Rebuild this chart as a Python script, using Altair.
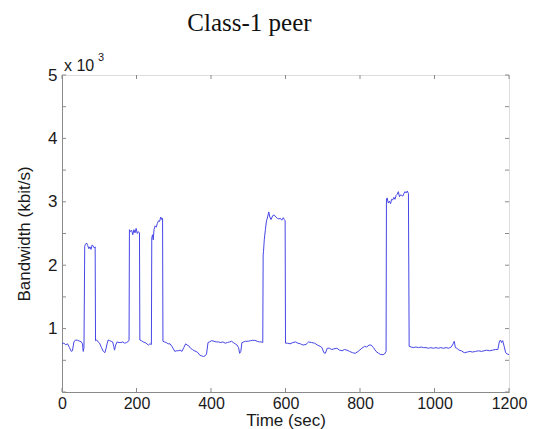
import altair as alt
import pandas as pd

# Time (sec) and bandwidth (kbit/s)
times = [0, 5, 10, 15, 20, 25, 28, 32, 36, 42, 48, 52, 55, 57, 59,
         61, 63, 66, 69, 72, 75, 78, 81, 84, 87, 89,
         90, 93, 97, 101, 106, 111, 115, 118, 121, 124, 128, 132, 136, 139, 141, 144, 148, 153, 158, 163, 168, 173, 178, 180,
         181, 184, 187, 190, 193, 196, 199, 202, 205, 208,
         209, 213, 218, 223, 228, 232, 236, 240,
         241, 243, 245, 247, 250, 253, 256, 259, 262, 265, 268, 270,
         271, 275, 280, 285, 290, 295, 299, 303, 307, 312, 317, 322, 327, 332, 336, 340, 345, 350, 355, 360, 365, 370, 375, 380, 384, 388,
         392, 396, 402, 408, 414, 420, 426, 432, 438, 444, 450, 455, 460, 465, 470, 474, 477, 480, 483, 488, 493, 500, 506, 512, 518, 524, 530, 535, 539,
         540, 541, 543, 546, 549, 552, 555, 558, 561, 564, 567, 570, 574, 578, 582, 586, 590, 594, 597, 599,
         600, 605, 612, 620, 627, 633, 640, 647, 655, 662, 670, 678, 686, 693, 698, 703, 707, 712, 718, 724, 730, 738, 745, 752, 758, 765, 772, 780, 787, 795, 805, 812, 818, 824, 830, 836, 843, 850, 856, 862, 866, 870,
         871, 873, 876, 879, 882, 885, 888, 891, 894, 897, 900, 903, 906, 909, 912, 915, 918, 921, 924, 927, 930,
         932, 937, 943, 950, 957, 964, 970, 977, 984, 990, 997, 1004, 1010, 1017, 1024, 1031, 1038, 1045, 1050, 1053, 1056, 1060, 1066, 1072, 1080, 1088, 1095, 1102, 1110, 1118, 1126, 1133, 1140, 1148, 1156, 1163, 1170, 1174, 1177, 1180, 1183, 1187, 1191, 1195, 1200]

bandwidth = [760, 770, 745, 760, 700, 640, 650, 790, 820, 815, 800, 790, 760, 640, 700,
             2300, 2330, 2350, 2310, 2260, 2290, 2250, 2320, 2300, 2270, 2290,
             810, 820, 790, 770, 700, 640, 620, 680, 760, 820, 810, 800, 790, 720, 660, 740, 790, 780, 780, 790, 770, 780, 800, 810,
             2560, 2530, 2550, 2480, 2560, 2510, 2580, 2500, 2530, 2510,
             820, 810, 790, 780, 760, 740, 760, 750,
             2430, 2480, 2400, 2560, 2620, 2600, 2660, 2700, 2690, 2760, 2720, 2740,
             800, 790, 780, 760, 760, 720, 680, 640, 650, 650, 660, 640, 700, 760, 740, 730, 690, 670, 650, 640, 620, 580, 570, 560, 570, 600,
             780, 790, 810, 800, 790, 790, 780, 790, 770, 780, 790, 800, 780, 760, 740, 700, 610, 640, 780, 790, 800, 800, 810, 815, 815, 800, 790, 790, 780,
             2160, 2220, 2400, 2560, 2700, 2760, 2840, 2760, 2720, 2760, 2790, 2790, 2760, 2740, 2730, 2740, 2710, 2750, 2720, 2700,
             770, 770, 760, 780, 790, 770, 760, 740, 750, 790, 780, 770, 740, 720, 700, 620, 610, 690, 690, 670, 680, 690, 660, 650, 670, 660, 640, 620, 610, 640, 690, 720, 710, 740, 740, 700, 640, 610, 590, 590, 600, 640,
             3050, 3060, 2980, 3010, 2970, 3040, 3030, 3070, 3040, 3100, 3120, 3160, 3080, 3110, 3100, 3090, 3130, 3160, 3140, 3170, 3130,
             720, 710, 700, 710, 700, 710, 700, 700, 690, 700, 690, 700, 690, 700, 690, 700, 690, 710, 760, 800, 700, 690, 660, 650, 620, 630, 640, 630, 640, 650, 640, 650, 660, 650, 660, 670, 670, 790, 820, 780, 810, 720, 620, 600, 590]

x_ticks = [0, 200, 400, 600, 800, 1000, 1200]
y_ticks = [0, 500, 1000, 1500, 2000, 2500, 3000, 3500, 4000, 4500, 5000]
y_labels = [1000, 2000, 3000, 4000, 5000]

W, H = 447, 317
AX = "#8a8a8a"
SANS = "Liberation Sans"

df = pd.DataFrame({"t": times, "bw": bandwidth})
xt = pd.DataFrame({"v": x_ticks})
yt = pd.DataFrame({"v": y_ticks})

xscale = alt.Scale(domain=[0, 1200], nice=False, zero=False)
yscale = alt.Scale(domain=[0, 5000], nice=False, zero=False)

line = alt.Chart(df).mark_line(color="#4646e6", strokeWidth=1, clip=True).encode(
    x=alt.X("t:Q", scale=xscale,
            axis=alt.Axis(values=x_ticks, format="d", title="Time (sec)", ticks=False, grid=False,
                          domainColor=AX, labelFont=SANS, labelFontSize=16, labelColor="#1a1a1a",
                          labelPadding=3, titleFont=SANS, titleFontSize=17, titleFontWeight="normal",
                          titleColor="#1a1a1a", titlePadding=1, labelFlush=False)),
    y=alt.Y("bw:Q", scale=yscale,
            axis=alt.Axis(values=y_labels, labelExpr="datum.value / 1000", title="Bandwidth (kbit/s)",
                          ticks=False, grid=False, domainColor=AX, labelFont=SANS, labelFontSize=17,
                          labelColor="#1a1a1a", labelPadding=5, titleFont=SANS, titleFontSize=17,
                          titleFontWeight="normal", titleColor="#1a1a1a", titlePadding=14, labelFlush=False)),
)

tb = alt.Chart(xt).mark_rule(color=AX, strokeWidth=1).encode(
    x=alt.X("v:Q", scale=xscale), y=alt.value(H), y2=alt.value(H - 4))
tt = alt.Chart(xt).mark_rule(color=AX, strokeWidth=1).encode(
    x=alt.X("v:Q", scale=xscale), y=alt.value(0), y2=alt.value(4))
tl = alt.Chart(yt).mark_rule(color=AX, strokeWidth=1).encode(
    y=alt.Y("v:Q", scale=yscale), x=alt.value(0), x2=alt.value(4))
tr = alt.Chart(yt).mark_rule(color=AX, strokeWidth=1).encode(
    y=alt.Y("v:Q", scale=yscale), x=alt.value(W), x2=alt.value(W - 4))

exp_base = alt.Chart(pd.DataFrame({"t": [0], "bw": [5000]})).mark_text(
    text="x 10", font=SANS, fontSize=16, color="#1a1a1a", align="left", baseline="middle", dx=2, dy=-9
).encode(x=alt.X("t:Q", scale=xscale), y=alt.Y("bw:Q", scale=yscale))
exp_sup = alt.Chart(pd.DataFrame({"t": [0], "bw": [5000]})).mark_text(
    text="3", font=SANS, fontSize=11, color="#1a1a1a", align="left", baseline="middle", dx=36, dy=-17
).encode(x=alt.X("t:Q", scale=xscale), y=alt.Y("bw:Q", scale=yscale))

chart = alt.layer(line, tb, tt, tl, tr, exp_base, exp_sup).properties(
    width=W, height=H,
    title=alt.TitleParams(text="Class-1 peer", font="Liberation Serif", fontSize=25,
                          fontWeight="normal", color="#111111", anchor="middle", offset=16, dx=-36),
    padding={"left": 62, "top": 75, "right": 35, "bottom": 37},
    autosize=alt.AutoSizeParams(type="none"),
).configure_view(stroke=AX, strokeWidth=1).configure(background="white")

chart.save("out.html", embed_options={"renderer": "svg", "actions": False})
